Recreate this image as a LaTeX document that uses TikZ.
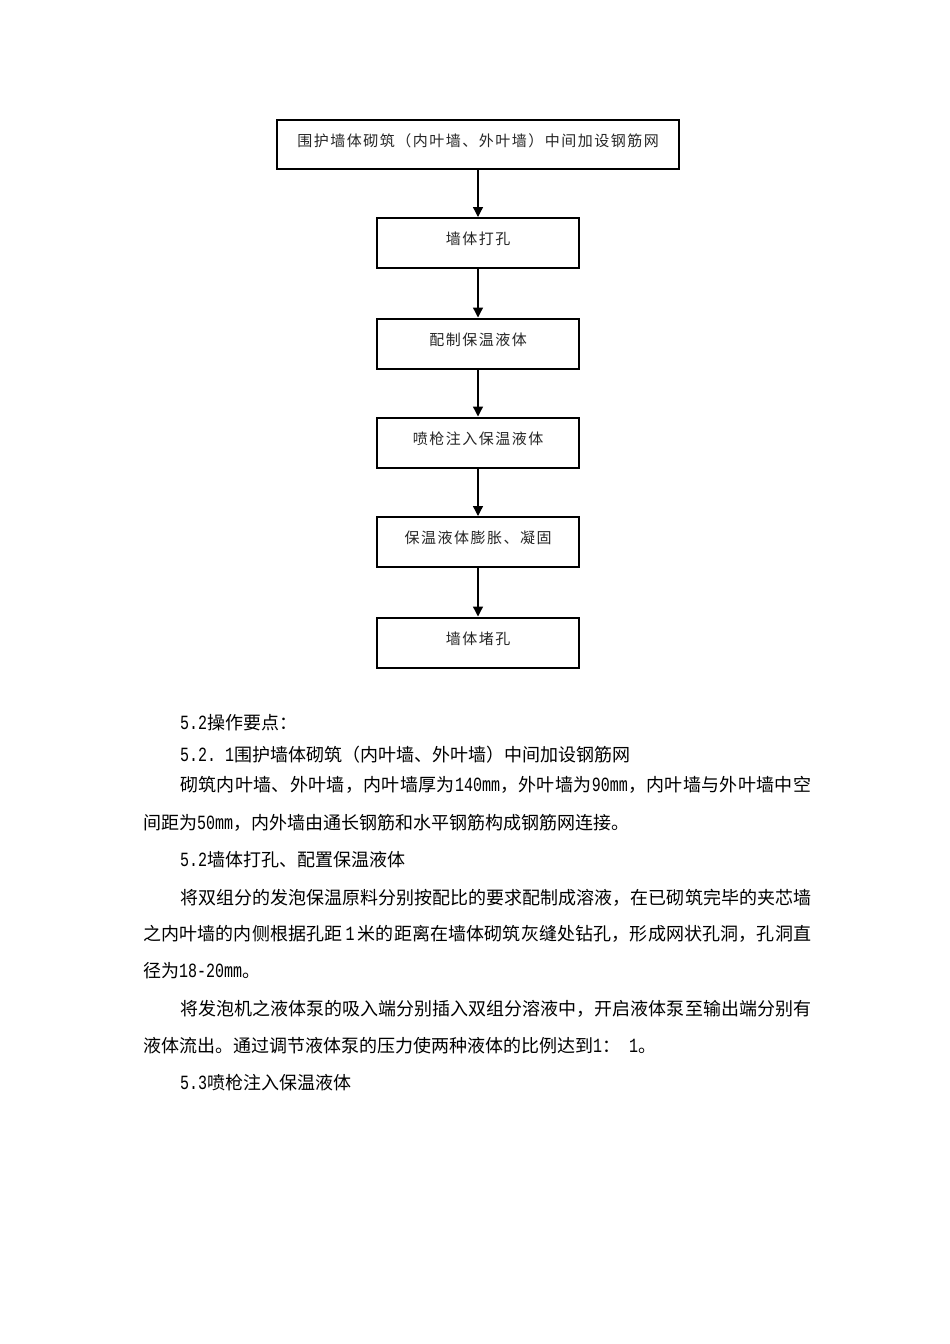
\documentclass[tikz,border=0pt]{standalone}
\usepackage{fontspec}
\setmainfont{Noto Sans CJK SC}
\newfontfamily\boxfont[LetterSpace=10]{Noto Sans CJK SC}
\newfontfamily\latfont[Scale=1.12,FakeStretch=0.744]{Liberation Mono}
\usetikzlibrary{arrows.meta}
\newcommand\lt[1]{{\latfont #1}}
\def\spreadtext#1{#1\spreadrest}
\def\spreadrest#1{\ifx\relax#1\else\hfil{#1}\expandafter\spreadrest\fi}
\tikzset{
  bigbox/.style={draw, line width=1.2pt, minimum width=402pt, minimum height=49pt,
    inner sep=0pt, text height=12pt, text depth=8.6pt, text=black!85,
    font=\boxfont\fontsize{15pt}{15pt}\selectfont},
  stepbox/.style={draw, line width=2pt, minimum width=202pt, minimum height=50pt,
    inner sep=0pt, text height=12pt, text depth=8.6pt, text=black!85,
    font=\boxfont\fontsize{15pt}{15pt}\selectfont},
  arr/.style={line width=1.3pt, -{Triangle[width=10pt,length=10pt]}},
  body/.style={anchor=base west, inner sep=0pt, text=black,
    font=\fontsize{18pt}{18pt}\selectfont}
}
\begin{document}
\begin{tikzpicture}[x=1pt,y=-1pt]
\useasboundingbox[fill=white] (0,0) rectangle (950,1344);
% flowchart
\node[bigbox] (b1) at (478,144.5) {围护墙体砌筑（内叶墙、外叶墙）中间加设钢筋网};
\node[stepbox] (b2) at (478,243) {墙体打孔};
\node[stepbox] (b3) at (478,343.5) {配制保温液体};
\node[stepbox] (b4) at (478,442.5) {喷枪注入保温液体};
\node[stepbox] (b5) at (478,542) {保温液体膨胀、凝固};
\node[stepbox] (b6) at (478,642.5) {墙体堵孔};
\draw[arr] (b1) -- (b2);
\draw[arr] (b2) -- (b3);
\draw[arr] (b3) -- (b4);
\draw[arr] (b4) -- (b5);
\draw[arr] (b5) -- (b6);
% body text
\node[body] (t1) at (180,729) {\lt{5.2}操作要点：};
\node[body] (t2) at (180,761) {\lt{5.2.~1}围护墙体砌筑（内叶墙、外叶墙）中间加设钢筋网};
\node[body] (t3) at (180,791) {\makebox[631pt][s]{\spreadtext 砌筑内叶墙、外叶墙，内叶墙厚为{\lt{140mm}}，外叶墙为{\lt{90mm}}，内叶墙与外叶墙中空\relax}};
\node[body] (t4) at (143,829) {间距为\lt{50mm}，内外墙由通长钢筋和水平钢筋构成钢筋网连接。};
\node[body] (t5) at (180,866) {\lt{5.2}墙体打孔、配置保温液体};
\node[body] (t6) at (180,904) {\makebox[631pt][s]{\spreadtext 将双组分的发泡保温原料分别按配比的要求配制成溶液，在已砌筑完毕的夹芯墙\relax}};
\node[body] (t7) at (143,940) {\makebox[668pt][s]{\spreadtext 之内叶墙的内侧根据孔距{\hspace{3pt}\lt{1}\hspace{3pt}}米的距离在墙体砌筑灰缝处钻孔，形成网状孔洞，孔洞直\relax}};
\node[body] (t8) at (143,977) {径为\lt{18-20mm}。};
\node[body] (t9) at (180,1015) {\makebox[631pt][s]{\spreadtext 将发泡机之液体泵的吸入端分别插入双组分溶液中，开启液体泵至输出端分别有\relax}};
\node[body] (t10) at (143,1052) {液体流出。通过调节液体泵的压力使两种液体的比例达到\lt{1}：\hspace{9pt}\lt{1}。};
\node[body] (t11) at (180,1089) {\lt{5.3}喷枪注入保温液体};
\end{tikzpicture}
\end{document}
